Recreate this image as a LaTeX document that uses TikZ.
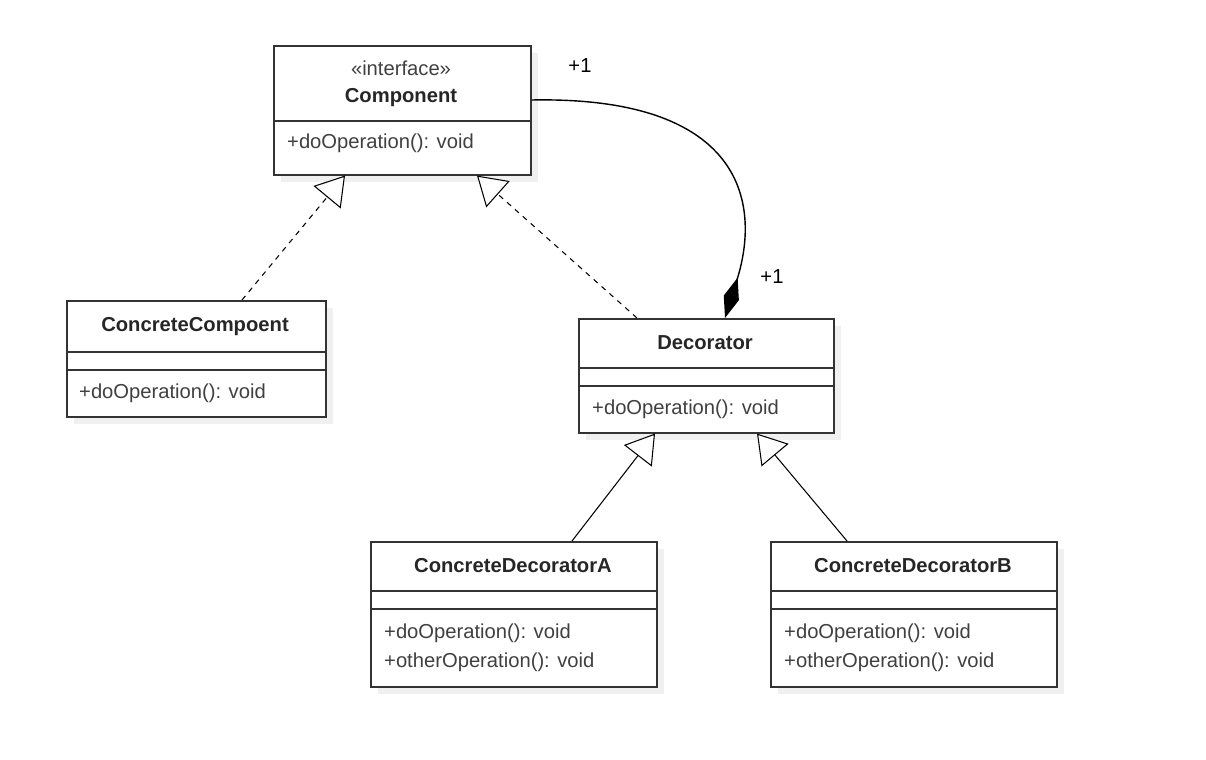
\documentclass[tikz,border=0pt]{standalone}
\usepackage{fontspec}
\setmainfont{Liberation Sans}
\usetikzlibrary{arrows.meta,positioning}

\tikzset{
  box/.style={draw=black!80, line width=0.9pt, fill=white, anchor=north west, inner sep=0pt},
  shadow/.style={fill=black!6, draw=none, anchor=north west, inner sep=0pt},
  txt/.style={font=\fontsize{11.5}{13}\selectfont, text=black!75},
  clsname/.style={font=\fontsize{11.5}{13}\selectfont\bfseries, text=black!85},
  real/.style={dashed, line width=0.6pt, -{Triangle[open,length=16pt,width=20pt,fill=white]}},
  gen/.style={line width=0.6pt, -{Triangle[open,length=16pt,width=20pt,fill=white]}},
  compo/.style={line width=0.8pt, {Diamond[length=24pt,width=9pt]}-}
}

% class box: #1 name, #2 x, #3 y, #4 width, #5 height
\newcommand{\umlbox}[5]{%
  \node[shadow, minimum width=#4*0.02cm, minimum height=#5*0.02cm] at (#2+8,#3+8) {};
  \node[box, minimum width=#4*0.02cm, minimum height=#5*0.02cm] (#1) at (#2,#3) {};
}

\begin{document}
\begin{tikzpicture}[x=0.02cm, y=-0.02cm]
    \useasboundingbox (0,0) rectangle (1206,760);
    % Boxes
    \umlbox{comp}{273}{45}{257}{129}
    \umlbox{cc}{66}{300}{259}{116}
    \umlbox{dec}{578}{318}{255}{114}
    \umlbox{cda}{370}{541}{286}{145}
    \umlbox{cdb}{770}{541}{286}{145}
    % Dividers
    \draw[line width=0.9pt, black!80] (273,121) -- (530,121);
    \draw[line width=0.9pt, black!80] (66,352) -- (325,352) (66,370) -- (325,370);
    \draw[line width=0.9pt, black!80] (578,368) -- (833,368) (578,386) -- (833,386);
    \draw[line width=0.9pt, black!80] (370,591) -- (656,591) (370,609) -- (656,609);
    \draw[line width=0.9pt, black!80] (770,591) -- (1056,591) (770,609) -- (1056,609);
    % Texts
    \node[txt] at (401,68) {«interface»};
    \node[clsname] at (401,98) {Component};
    \node[txt, anchor=west] at (281,143) {+doOperation(): void};
    \node[clsname] at (195,327) {ConcreteCompoent};
    \node[txt, anchor=west] at (73,393) {+doOperation(): void};
    \node[clsname] at (705,343) {Decorator};
    \node[txt, anchor=west] at (586,409) {+doOperation(): void};
    \node[clsname] at (513,566) {ConcreteDecoratorA};
    \node[txt, anchor=west] at (378,633) {+doOperation(): void};
    \node[txt, anchor=west] at (378,662) {+otherOperation(): void};
    \node[clsname] at (913,566) {ConcreteDecoratorB};
    \node[txt, anchor=west] at (778,633) {+doOperation(): void};
    \node[txt, anchor=west] at (778,662) {+otherOperation(): void};
    % Connectors
    \draw[real] (cc.north -| 242,0) -- (comp.south -| 345,0);
    \draw[real] (dec.north -| 637,0) -- (comp.south -| 477,0);
    \draw[gen] (cda.north -| 572,0) -- (dec.south -| 655,0);
    \draw[gen] (cdb.north -| 847,0) -- (dec.south -| 757,0);
    \draw[compo] (dec.north -| 725,0) .. controls (762,200) and (740,96) .. (comp.east |- 0,100);
    % Multiplicities
    \node[txt, text=black] (m1) at (580,66) {+1};
    \node[txt, text=black] (m2) at (772,277) {+1};
\end{tikzpicture}
\end{document}
